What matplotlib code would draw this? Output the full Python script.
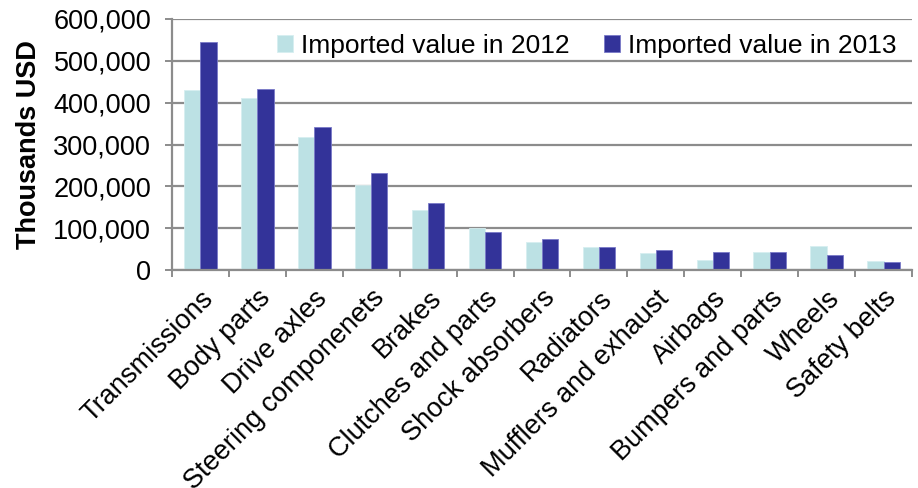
import matplotlib
matplotlib.use("Agg")
import matplotlib.pyplot as plt
import numpy as np
from matplotlib.ticker import FuncFormatter, FixedLocator

plt.rcParams['font.family'] = ['Liberation Sans', 'DejaVu Sans']

# Imported auto parts, thousands of USD
categories = ["Transmissions", "Body parts", "Drive axles", "Steering componenets",
              "Brakes", "Clutches and parts", "Shock absorbers", "Radiators",
              "Mufflers and exhaust", "Airbags", "Bumpers and parts", "Wheels",
              "Safety belts"]
values_2012 = [430000, 410000, 318000, 202000, 143000, 100000, 68000, 56000,
               40000, 24000, 42000, 58000, 21000]
values_2013 = [546000, 432000, 343000, 233000, 160000, 92000, 74000, 56000,
               48000, 44000, 42000, 35000, 19000]
series_labels = ["Imported value in 2012", "Imported value in 2013"]
y_ticks = [0, 100000, 200000, 300000, 400000, 500000, 600000]

W, H = 918, 488
fig = plt.figure(figsize=(W / 100, H / 100), dpi=100)
ax = fig.add_axes([172 / W, 1 - 270 / H, (912 - 172) / W, (270 - 19) / H])

x = np.arange(len(categories))
bw = 0.285
grid_c = "#8c8c8c"

ax.bar(x - bw / 2, values_2012, bw, color="#bce1e4", edgecolor="#d6eef0",
       linewidth=0.6, label=series_labels[0], zorder=3)
ax.bar(x + bw / 2, values_2013, bw, color="#333399", edgecolor="#7a7ac8",
       linewidth=0.6, label=series_labels[1], zorder=3)

ax.set_xlim(-0.5, len(categories) - 0.5)
ax.set_ylim(0, 600000)
ax.set_yticks(y_ticks)
ax.yaxis.set_major_formatter(FuncFormatter(lambda v, p: f"{int(v):,}"))
ax.yaxis.grid(True, color=grid_c, linewidth=1.6, zorder=0)
ax.set_axisbelow(True)

for s in ("top", "right"):
    ax.spines[s].set_visible(False)
for s in ("left", "bottom"):
    ax.spines[s].set_color(grid_c)
    ax.spines[s].set_linewidth(1.6)
ax.spines["bottom"].set_zorder(4)

ax.tick_params(axis="y", direction="out", length=5, width=1.4, color=grid_c,
               labelsize=19.5, pad=10)

# category labels at centres, tick marks at group boundaries
ax.set_xticks(x)
ax.set_xticklabels(categories, rotation=45, ha="right", va="top",
                   rotation_mode="anchor", fontsize=19.5)
ax.tick_params(axis="x", which="major", length=0, pad=11)
ax.xaxis.set_minor_locator(FixedLocator(np.arange(-0.5, len(categories), 1.0)))
ax.tick_params(axis="x", which="minor", direction="out", length=5, width=1.4,
               color=grid_c)

ax.set_ylabel("Thousands USD", fontsize=19.5, fontweight="bold")
ax.yaxis.set_label_coords(-0.176, 0.5)

leg = ax.legend(loc="upper right", bbox_to_anchor=(1.0, 1.005), ncol=2,
                frameon=False, fontsize=19, handlelength=0.6, handleheight=0.6,
                handletextpad=0.3, columnspacing=1.3, borderaxespad=0.2)

fig.savefig("out.png", dpi=100)
